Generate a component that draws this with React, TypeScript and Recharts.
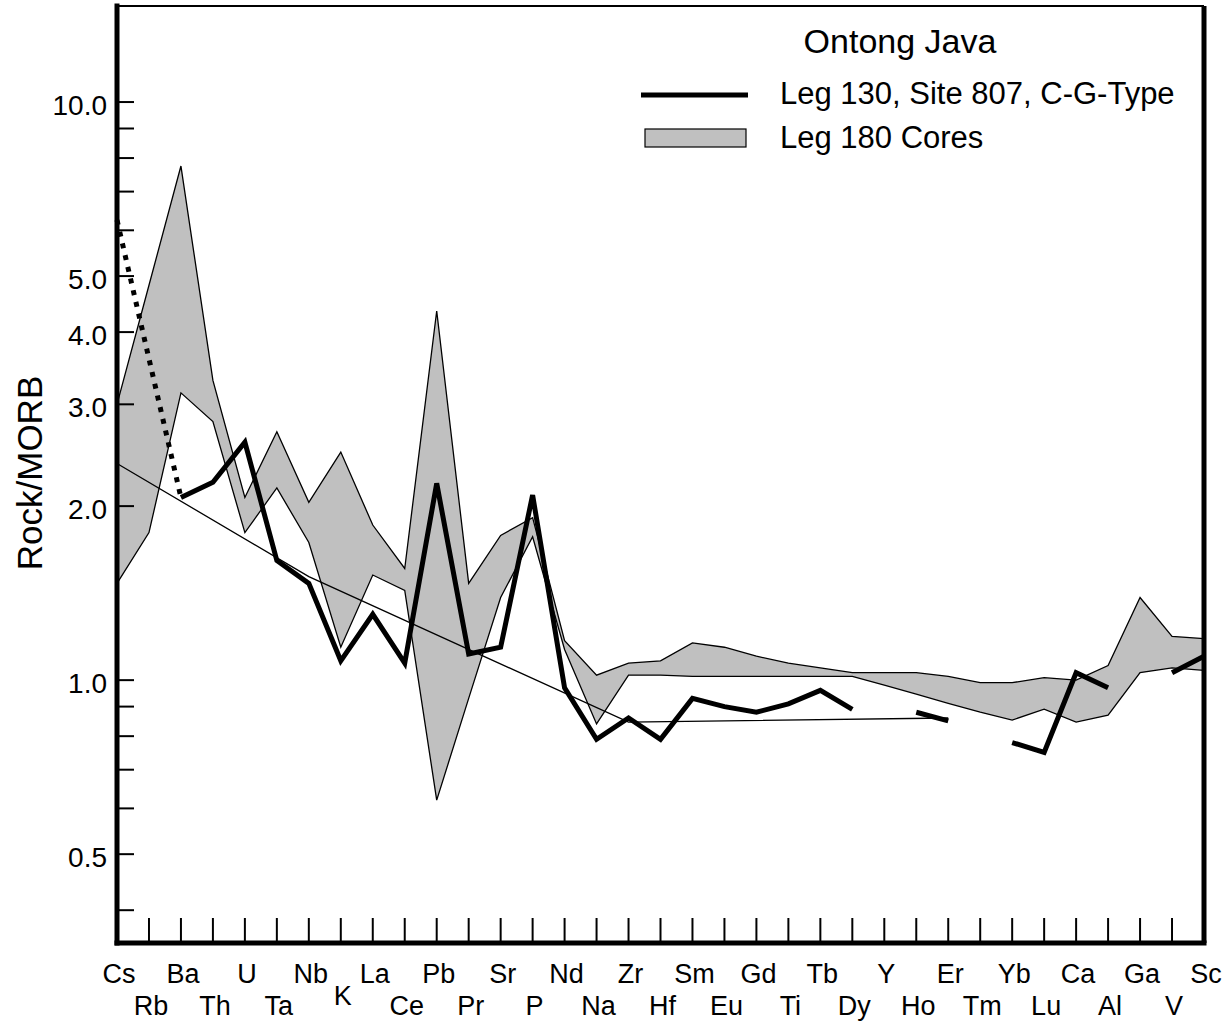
import {
  ComposedChart,
  Area,
  Line,
  XAxis,
  YAxis,
  ReferenceLine,
  Legend,
} from "recharts";

// ---------------------------------------------------------------------------
// Data (Rock/MORB normalised)
// ---------------------------------------------------------------------------

const ELEMENTS = [
  "Cs", "Rb", "Ba", "Th", "U", "Ta", "Nb", "K", "La", "Ce", "Pb", "Pr",
  "Sr", "P", "Nd", "Na", "Zr", "Hf", "Sm", "Eu", "Gd", "Ti", "Tb", "Dy",
  "Y", "Ho", "Er", "Tm", "Yb", "Lu", "Ca", "Al", "Ga", "V", "Sc",
];

// Leg 180 cores: envelope of the sampled range
const LEG180_HIGH = [
  3.0, 4.82, 7.75, 3.3, 2.07, 2.69, 2.03, 2.48, 1.855, 1.56, 4.35, 1.47,
  1.78, 1.91, 1.17, 1.02, 1.07, 1.08, 1.16, 1.14, 1.1, 1.07, 1.05, 1.03,
  1.03, 1.03, 1.015, 0.99, 0.99, 1.01, 1.0, 1.06, 1.39, 1.19, 1.18,
];
const LEG180_LOW = [
  1.47, 1.8, 3.14, 2.8, 1.8, 2.15, 1.73, 1.14, 1.52, 1.43, 0.62, 0.93,
  1.39, 1.77, 1.13, 0.84, 1.02, 1.02, 1.015, 1.015, 1.015, 1.015, 1.015, 1.015,
  0.98, 0.946, 0.912, 0.88, 0.853, 0.891, 0.846, 0.87, 1.03, 1.05, 1.04,
];

// Leg 130, Site 807 (gaps where the element was not measured)
const LEG130 = [
  null, null, 2.07, 2.2, 2.58, 1.61, 1.47, 1.08, 1.3, 1.07, 2.19, 1.11,
  1.14, 2.09, 0.97, 0.79, 0.86, 0.79, 0.93, 0.9, 0.88, 0.91, 0.96, 0.89,
  null, 0.88, 0.85, null, 0.78, 0.75, 1.03, 0.97, null, 1.03, 1.1,
];
// Cs estimate, joined to Ba with a dotted line
const LEG130_CS: Record<string, number> = { Cs: 6.25, Ba: 2.07 };

// thin reference line
const REF_LINE: Record<string, number> = { Cs: 2.37, Nb: 1.51, Zr: 0.846, Er: 0.86 };

const Y_MIN = 0.351;
const Y_MAX = 14.66;
const Y_TICKS = [0.4, 0.5, 0.6, 0.7, 0.8, 0.9, 1, 2, 3, 4, 5, 6, 7, 8, 9, 10];
const Y_LABELED = [0.5, 1, 2, 3, 4, 5, 10];

const FONT = "'Liberation Sans', Arial, Helvetica, sans-serif";
const BAND_FILL = "#c0c0c0";
const Y_TICK_MARGIN = 10;

const chartData = ELEMENTS.map((el, i) => ({
  el,
  band: [LEG180_LOW[i], LEG180_HIGH[i]],
  leg130: LEG130[i],
  leg130Cs: LEG130_CS[el] ?? null,
  ref: REF_LINE[el] ?? null,
}));

// ---------------------------------------------------------------------------
// Axis ticks: marks point inwards, labels outside
// ---------------------------------------------------------------------------

function YTick(props: any) {
  const { x, y, payload } = props;
  const axisX = x + Y_TICK_MARGIN;
  const v = payload.value as number;
  return (
    <g>
      <line x1={axisX} x2={axisX + 17} y1={y} y2={y} stroke="#000" strokeWidth={2} />
      {Y_LABELED.includes(v) && (
        <text x={x} y={y + 13} textAnchor="end" fontSize={28} fontFamily={FONT} fill="#000">
          {v.toFixed(1)}
        </text>
      )}
    </g>
  );
}

function XTick(props: any) {
  const { x, y, payload } = props;
  const el = payload.value as string;
  const idx = ELEMENTS.indexOf(el);
  // alternate rows so neighbouring symbols don't collide
  let dy = idx % 2 === 0 ? 40 : 72;
  if (el === "K") dy -= 10;
  return (
    <g>
      <line x1={x} x2={x} y1={y} y2={y - 25} stroke="#000" strokeWidth={2} />
      <text x={x + 2} y={y + dy} textAnchor="middle" fontSize={27} fontFamily={FONT} fill="#000">
        {el}
      </text>
    </g>
  );
}

function AxisTitle() {
  return (
    <text
      x={42}
      y={473}
      transform="rotate(-90 42 473)"
      textAnchor="middle"
      fontSize={35}
      fontFamily={FONT}
      fill="#000"
    >
      Rock/MORB
    </text>
  );
}

function LegendBox() {
  return (
    <svg width={585} height={170} style={{ display: "block", fontFamily: FONT }}>
      <text x={280} y={53} textAnchor="middle" fontSize={34} fill="#000">
        Ontong Java
      </text>
      <line x1={21} x2={128} y1={95} y2={95} stroke="#000" strokeWidth={5} />
      <text x={160} y={104} fontSize={31} fill="#000">
        Leg 130, Site 807, C-G-Type
      </text>
      <rect x={25} y={129} width={101} height={18} fill={BAND_FILL} stroke="#000" strokeWidth={1.2} />
      <text x={160} y={148} fontSize={31} fill="#000">
        Leg 180 Cores
      </text>
    </svg>
  );
}

// ---------------------------------------------------------------------------
// Chart
// ---------------------------------------------------------------------------

export default function App() {
  return (
    <div
      style={{
        position: "absolute",
        left: 0,
        top: 0,
        width: 1225,
        height: 1021,
        background: "#fff",
        fontFamily: FONT,
      }}
    >
      <ComposedChart
        width={1225}
        height={1021}
        data={chartData}
        margin={{ top: 6, right: 21, bottom: 0, left: 0 }}
      >
        <XAxis
          dataKey="el"
          type="category"
          scale="point"
          padding={{ left: 0, right: 0 }}
          interval={0}
          height={78}
          tickSize={0}
          tickMargin={0}
          tickLine={false}
          tick={<XTick />}
          axisLine={{ stroke: "#000", strokeWidth: 5, strokeLinecap: "square" }}
        />
        <YAxis
          type="number"
          scale="log"
          domain={[Y_MIN, Y_MAX]}
          allowDataOverflow
          ticks={Y_TICKS}
          interval={0}
          width={117}
          tickSize={0}
          tickMargin={Y_TICK_MARGIN}
          tickLine={false}
          tick={<YTick />}
          axisLine={{ stroke: "#000", strokeWidth: 5, strokeLinecap: "square" }}
          label={<AxisTitle />}
        />

        {/* frame: top and right edges */}
        <ReferenceLine y={Y_MAX} stroke="#000" strokeWidth={2} />
        <ReferenceLine x="Sc" stroke="#000" strokeWidth={5} />

        <Area
          dataKey="band"
          type="linear"
          fill={BAND_FILL}
          fillOpacity={1}
          stroke="#000"
          strokeWidth={1.3}
          dot={false}
          activeDot={false}
          isAnimationActive={false}
        />
        <Line
          dataKey="ref"
          type="linear"
          stroke="#000"
          strokeWidth={1.3}
          dot={false}
          activeDot={false}
          connectNulls
          isAnimationActive={false}
        />
        <Line
          dataKey="leg130Cs"
          type="linear"
          stroke="#000"
          strokeWidth={5}
          strokeDasharray="5 7"
          dot={false}
          activeDot={false}
          connectNulls
          isAnimationActive={false}
        />
        <Line
          dataKey="leg130"
          type="linear"
          stroke="#000"
          strokeWidth={5}
          strokeLinejoin="miter"
          dot={false}
          activeDot={false}
          isAnimationActive={false}
        />

        <Legend
          layout="horizontal"
          verticalAlign="middle"
          align="center"
          content={<LegendBox />}
          wrapperStyle={{ top: 0, left: 620, width: 585, height: 170 }}
        />
      </ComposedChart>
    </div>
  );
}
